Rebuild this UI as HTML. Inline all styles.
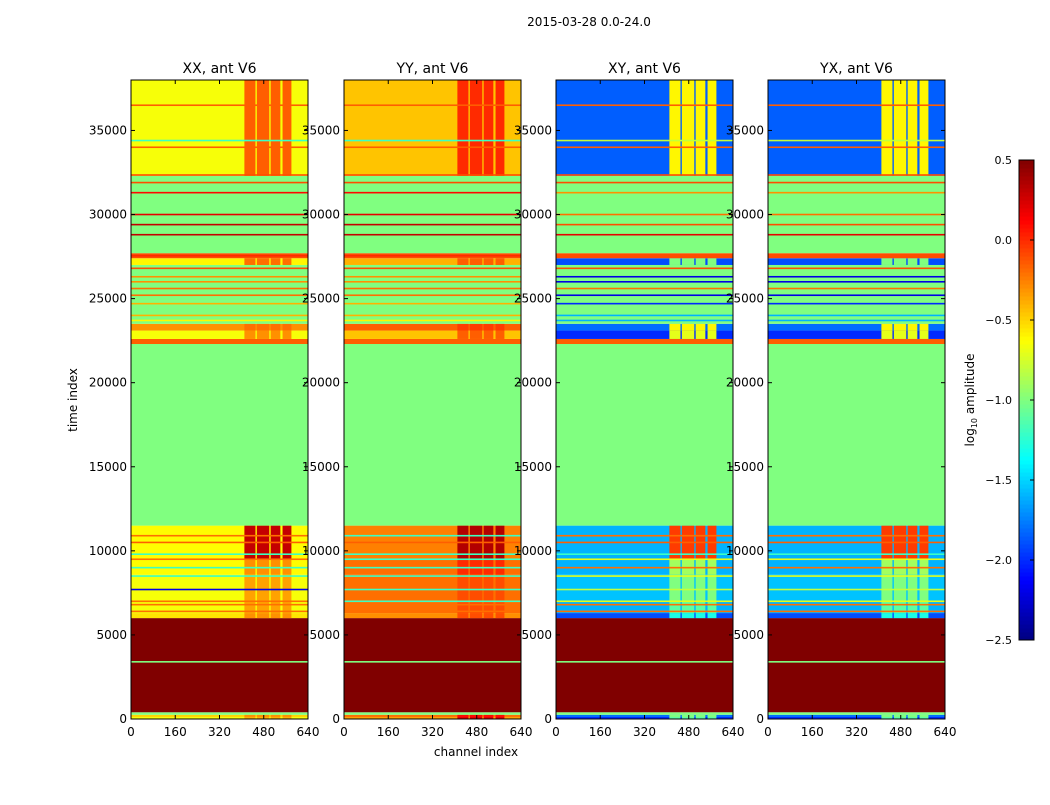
<!DOCTYPE html>
<html><head><meta charset="utf-8"><style>
body{margin:0;background:#fff;font-family:"Liberation Sans","DejaVu Sans",sans-serif}
svg text{font-family:"DejaVu Sans","Liberation Sans",sans-serif}
</style></head><body>
<svg id="fig" width="1050" height="800" xmlns="http://www.w3.org/2000/svg">
<rect width="1050" height="800" fill="#fff"/>
<text x="589" y="26" font-size="12" text-anchor="middle">2015-03-28 0.0-24.0</text>
<text x="476" y="756" font-size="12" text-anchor="middle">channel index</text>
<text transform="translate(77,400) rotate(-90)" font-size="12" text-anchor="middle">time index</text>
<text transform="translate(974,400) rotate(-90)" font-size="12" text-anchor="middle">log<tspan font-size="8" dy="3">10</tspan><tspan dy="-3"> amplitude</tspan></text>
</svg>
<script>
// ---- data ----
const panelTitles = ["XX, ant V6","YY, ant V6","XY, ant V6","YX, ant V6"];
const panelX = [131,344,556,768];
const xTicks = [0,160,320,480,640];
const yTicks = [0,5000,10000,15000,20000,25000,30000,35000];
const cbTicks = [-2.5,-2.0,-1.5,-1.0,-0.5,0.0,0.5];
const hotBlocks = [[410,450],[455,500],[505,540],[548,580]];
// band start/end (time index), shared
const bandStart = [0,120,250,400,6000,6300,7000,8600,9500,11500,22300,22600,23100,23500,27000,27400,27700,32300];
const bandEnd   = [120,250,400,6000,6300,7000,8600,9500,11500,22300,22600,23100,23500,27000,27400,27700,32300,38000];
// per-panel base and hot values per band
const baseXX = [-0.65,-0.5,-1.0,0.5,-0.55,-0.65,-0.65,-0.62,-0.62,-1.0,-0.15,-0.65,-0.3,-1.0,-0.6,-0.1,-1.0,-0.65];
const hotXX  = [-0.4,-0.3,-1.0,0.5,-0.3,-0.35,-0.35,-0.3,0.3,-1.0,-0.15,-0.3,-0.2,-1.0,-0.2,-0.1,-1.0,-0.15];
const baseYY = [-0.35,-0.2,-1.0,0.5,-0.3,-0.2,-0.2,-0.2,-0.25,-1.0,-0.15,-0.45,-0.15,-1.0,-0.4,-0.1,-1.0,-0.45];
const hotYY  = [0.2,0.1,-1.0,0.5,-0.1,-0.1,-0.1,0.0,0.35,-1.0,-0.15,-0.15,-0.05,-1.0,-0.15,-0.1,-1.0,0.0];
const baseXY = [-2.0,-1.8,-1.0,0.5,-1.9,-1.6,-1.55,-1.6,-1.6,-1.0,-0.15,-2.0,-1.8,-1.0,-1.9,-0.1,-1.0,-1.85];
const hotXY  = [-1.1,-1.0,-1.0,0.5,-1.3,-1.1,-1.0,-0.9,-0.05,-1.0,-0.15,-0.7,-0.6,-1.0,-1.0,-0.1,-1.0,-0.6];
const baseYX = baseXY;
const hotYX  = hotXY;
// thin lines (time index, value per panel)
const lineT  = [36500,34000,34400,32350,31900,31300,30000,29400,28800,27550,26800,26300,26000,25600,25200,24700,24000,23700,10900,10500,9800,9500,9000,8500,7700,7000,6800,6400,3400];
const lineXX = [-0.15,-0.15,-1.2,-0.1,-0.1,0.1,0.2,0.3,0.3,0.0,-0.1,-0.3,-0.3,-0.2,-0.2,-0.4,-0.4,-0.6,-0.2,-0.15,-1.2,-0.2,-1.2,-1.2,-2.2,-0.2,-0.2,-0.2,-1.0];
const lineYY = [-0.15,-0.15,-1.2,-0.1,-0.1,0.1,0.2,0.3,0.3,0.0,-0.1,-0.3,-0.3,-0.2,-0.2,-0.4,-0.4,-0.6,-1.2,-0.15,-1.2,-1.2,-1.2,-1.2,-1.2,-1.2,-0.2,-0.2,-1.0];
const lineXY = [-0.15,-0.15,-0.8,-0.1,-0.1,-0.3,-0.2,-0.1,0.2,-0.1,-0.1,-2.2,-2.2,-0.2,-2.2,-2.0,-1.6,-1.6,-0.2,-0.15,-1.2,-0.7,-0.2,-0.7,-0.8,-0.7,-0.2,-0.2,-1.0];
const lineYX = lineXY;
const bases = [baseXX,baseYY,baseXY,baseYX];
const hots = [hotXX,hotYY,hotXY,hotYX];
const lines = [lineXX,lineYY,lineXY,lineYX];

// ---- scales ----
const PW = 177, Y0 = 719, Y1 = 80, TMAX = 38000, CMAX = 640;
const yS = t => Y0 - t / TMAX * (Y0 - Y1);
const xS = (p, c) => panelX[p] + c / CMAX * PW;
const vmin = -2.5, vmax = 0.5;
function jet(v){
  let x = Math.max(0, Math.min(1, (v - vmin) / (vmax - vmin)));
  const f = (a) => Math.max(0, Math.min(1, a));
  const r = f(1.5 - Math.abs(4*x - 3)), g = f(1.5 - Math.abs(4*x - 2)), b = f(1.5 - Math.abs(4*x - 1));
  return `rgb(${Math.round(r*255)},${Math.round(g*255)},${Math.round(b*255)})`;
}
const NS = "http://www.w3.org/2000/svg";
const svg = document.getElementById('fig');
function mk(tag, attrs, parent){ const e = document.createElementNS(NS, tag); for (const k in attrs) e.setAttribute(k, attrs[k]); (parent||svg).appendChild(e); return e; }

for (let p = 0; p < 4; p++) {
  const g = mk('g', {});
  
  
  for (let i = 0; i < bandStart.length; i++) {
    const ya = yS(bandEnd[i]), yb = yS(bandStart[i]);
    const r = mk('rect', {x: xS(p,0), y: ya, width: PW, height: yb - ya, fill: jet(bases[p][i])}, g);
    
    
    if (hots[p][i] !== bases[p][i]) {
      for (const hb of hotBlocks) {
        const h = mk('rect', {x: xS(p,hb[0]), y: ya, width: xS(p,hb[1]) - xS(p,hb[0]), height: yb - ya, fill: jet(hots[p][i])}, g);
        
        
      }
    }
  }
  for (let j = 0; j < lineT.length; j++) {
    const l = mk('rect', {x: xS(p,0), y: yS(lineT[j]) - 0.8, width: PW, height: 1.6, fill: jet(lines[p][j])}, g);
    
    
  }
  const fr = mk('rect', {x: panelX[p], y: Y1, width: PW, height: Y0 - Y1, fill: 'none', stroke: '#000', 'stroke-width': 1});
  
  
  const tt = mk('text', {x: panelX[p] + PW/2, y: 73, 'font-size': 14, 'text-anchor': 'middle'});
  tt.textContent = panelTitles[p];
  
  
  for (const t of xTicks) {
    const x = xS(p,t);
    mk('line', {x1: x, x2: x, y1: Y0, y2: Y0 - 4, stroke: '#000'});
    mk('line', {x1: x, x2: x, y1: Y1, y2: Y1 + 4, stroke: '#000'});
    const lt = mk('text', {x: x, y: Y0 + 17, 'font-size': 12, 'text-anchor': 'middle'});
    lt.textContent = t;
    
    
  }
  for (const t of yTicks) {
    const y = yS(t);
    mk('line', {x1: panelX[p], x2: panelX[p] + 4, y1: y, y2: y, stroke: '#000'});
    mk('line', {x1: panelX[p] + PW, x2: panelX[p] + PW - 4, y1: y, y2: y, stroke: '#000'});
    const lt = mk('text', {x: panelX[p] - 4, y: y + 4, 'font-size': 12, 'text-anchor': 'end'});
    lt.textContent = t;
    
    
  }
}
// colorbar
const cbX = 1019, cbW = 15, cbT = 160, cbB = 640;
const cbY = v => cbB - (v - vmin) / (vmax - vmin) * (cbB - cbT);
const cg = mk('g', {});


for (let i = 0; i < 120; i++) {
  const v0 = vmin + i * (vmax - vmin) / 120, v1 = vmin + (i+1) * (vmax - vmin) / 120;
  mk('rect', {x: cbX, y: cbY(v1), width: cbW, height: cbY(v0) - cbY(v1) + 0.5, fill: jet((v0+v1)/2)}, cg);
}
mk('rect', {x: cbX, y: cbT, width: cbW, height: cbB - cbT, fill: 'none', stroke: '#000'}, cg);
for (const v of cbTicks) {
  const y = cbY(v);
  mk('line', {x1: cbX + cbW - 4, x2: cbX + cbW, y1: y, y2: y, stroke: '#000'}, cg);
  const lt = mk('text', {x: 1012, y: y + 4, 'font-size': 11, 'text-anchor': 'end'}, cg);
  lt.textContent = (v < 0 ? '\u2212' : '') + Math.abs(v).toFixed(1);
  
  
}
</script>
</body></html>
